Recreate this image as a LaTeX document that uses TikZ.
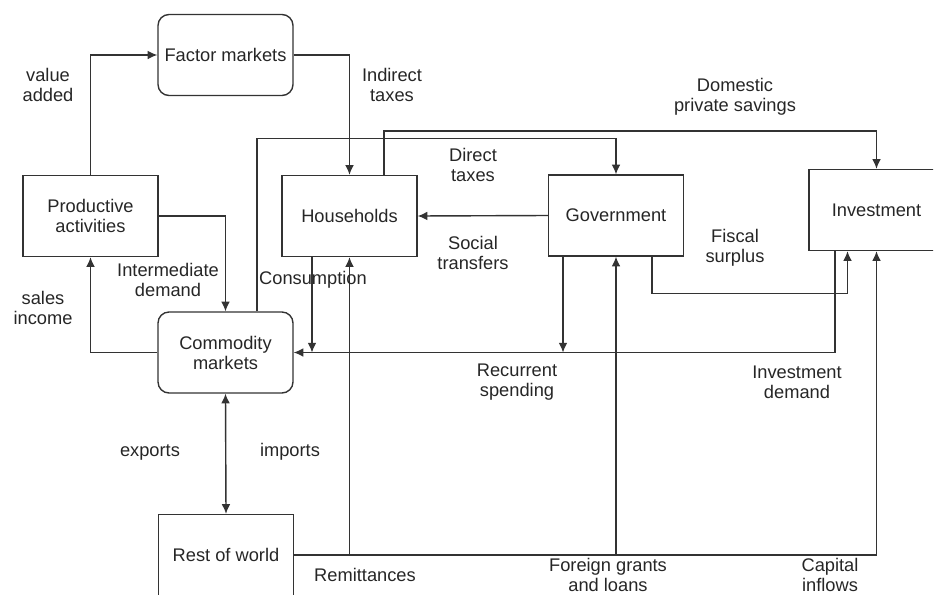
\documentclass[tikz,border=0pt]{standalone}
\usepackage{fontspec}
\setmainfont{Liberation Sans}
\usepackage{tikz}
\usetikzlibrary{positioning}
\usetikzlibrary{arrows.meta}
\usetikzlibrary{calc}

\tikzset{
  >={Latex[length=5.5pt,width=5pt]},
  sector/.style={draw=black!80, line width=0.8pt, minimum width=2.7cm, minimum height=1.62cm,
    inner sep=0pt, align=center, text=black!85, font=\fontsize{10.4}{11.4}\selectfont},
  market/.style={sector, rounded corners=0.22cm},
  flow/.style={draw=black!80, line width=0.8pt, ->},
  lbl/.style={align=center, inner sep=0pt, text=black!85, font=\fontsize{10.4}{11.4}\selectfont}
}

\begin{document}
\begin{tikzpicture}[x=0.02cm,y=-0.02cm]
\useasboundingbox (0,0) rectangle (937,595);
\clip (0,0) rectangle (933,595);
% sectors and markets
\node[market] (factor) at (225.5,55) {Factor markets};
\node[sector] (prod) at (90.5,216) {Productive\\activities};
\node[sector] (hh) at (349.5,216) {Households};
\node[sector] (gov) at (616,215.5) {Government};
\node[sector] (inv) at (876.5,210) {Investment};
\node[market] (comm) at (225.5,352.5) {Commodity\\markets};
\node[sector] (row) at (226,555) {Rest of world};

% free ends
\coordinate (cons) at ($(hh.south)+(-37.5,0)$);
\coordinate (recur) at ($(gov.south)+(-53,0)$);
\coordinate (invdem) at ($(inv.south)+(-41.5,0)$);
\coordinate (fiscal) at ($(gov.south)+(36,0)$);
\coordinate (fiscalin) at ($(inv.south)+(-29,0)$);
\coordinate (commtax) at ($(comm.north)+(31.5,0)$);
\coordinate (hhsav) at ($(hh.north)+(34.5,0)$);

% flows
\draw[flow] (prod.north) |- (factor.west);
\draw[flow] (factor.east) -| (hh.north);
\draw[flow] (commtax) |- ($(gov.north)+(0,-36)$) -- (gov.north);
\draw[flow] (hhsav) |- ($(inv.north)+(0,-38)$) -- (inv.north);
\draw[flow] (gov.west) -- (hh.east);
\draw[flow] (prod.east) -| (comm.north);
\draw[flow] (comm.west) -| (prod.south);
\draw[flow] (invdem) |- (comm.east);
\draw[flow] (cons) -- (cons |- comm.east);
\draw[flow] (recur) -- (recur |- comm.east);
\draw[flow] (fiscal) -- ++(0,37) -| (fiscalin);
\draw[flow] (row.east) -| (hh.south);
\draw[flow] (row.east) -| (gov.south);
\draw[flow] (row.east) -| (inv.south);
\draw[flow,<->] (comm.south) -- (row.north);

% labels
\node[lbl] (lva) at (48,85) {value\\added};
\node[lbl] (lind) at (392,85) {Indirect\\taxes};
\node[lbl] (ldps) at (735,97) {Domestic\\private savings};
\node[lbl] (ldt) at (473,165) {Direct\\taxes};
\node[lbl] (lst) at (473,253) {Social\\transfers};
\node[lbl] (lfs) at (735,248) {Fiscal\\surplus};
\node[lbl] (lid) at (168,280) {Intermediate\\demand};
\node[lbl] (lsi) at (43,308) {sales\\income};
\node[lbl] (lcons) at (313,280) {Consumption};
\node[lbl] (lrs) at (517,382) {Recurrent\\spending};
\node[lbl] (linvd) at (797,382) {Investment\\demand};
\node[lbl] (lexp) at (150,452) {exports};
\node[lbl] (limp) at (290,452) {imports};
\node[lbl] (lrem) at (365,575) {Remittances};
\node[lbl] (lfgl) at (608,575) {Foreign grants\\and loans};
\node[lbl] (lcap) at (830,575) {Capital\\inflows};
\end{tikzpicture}
\end{document}
